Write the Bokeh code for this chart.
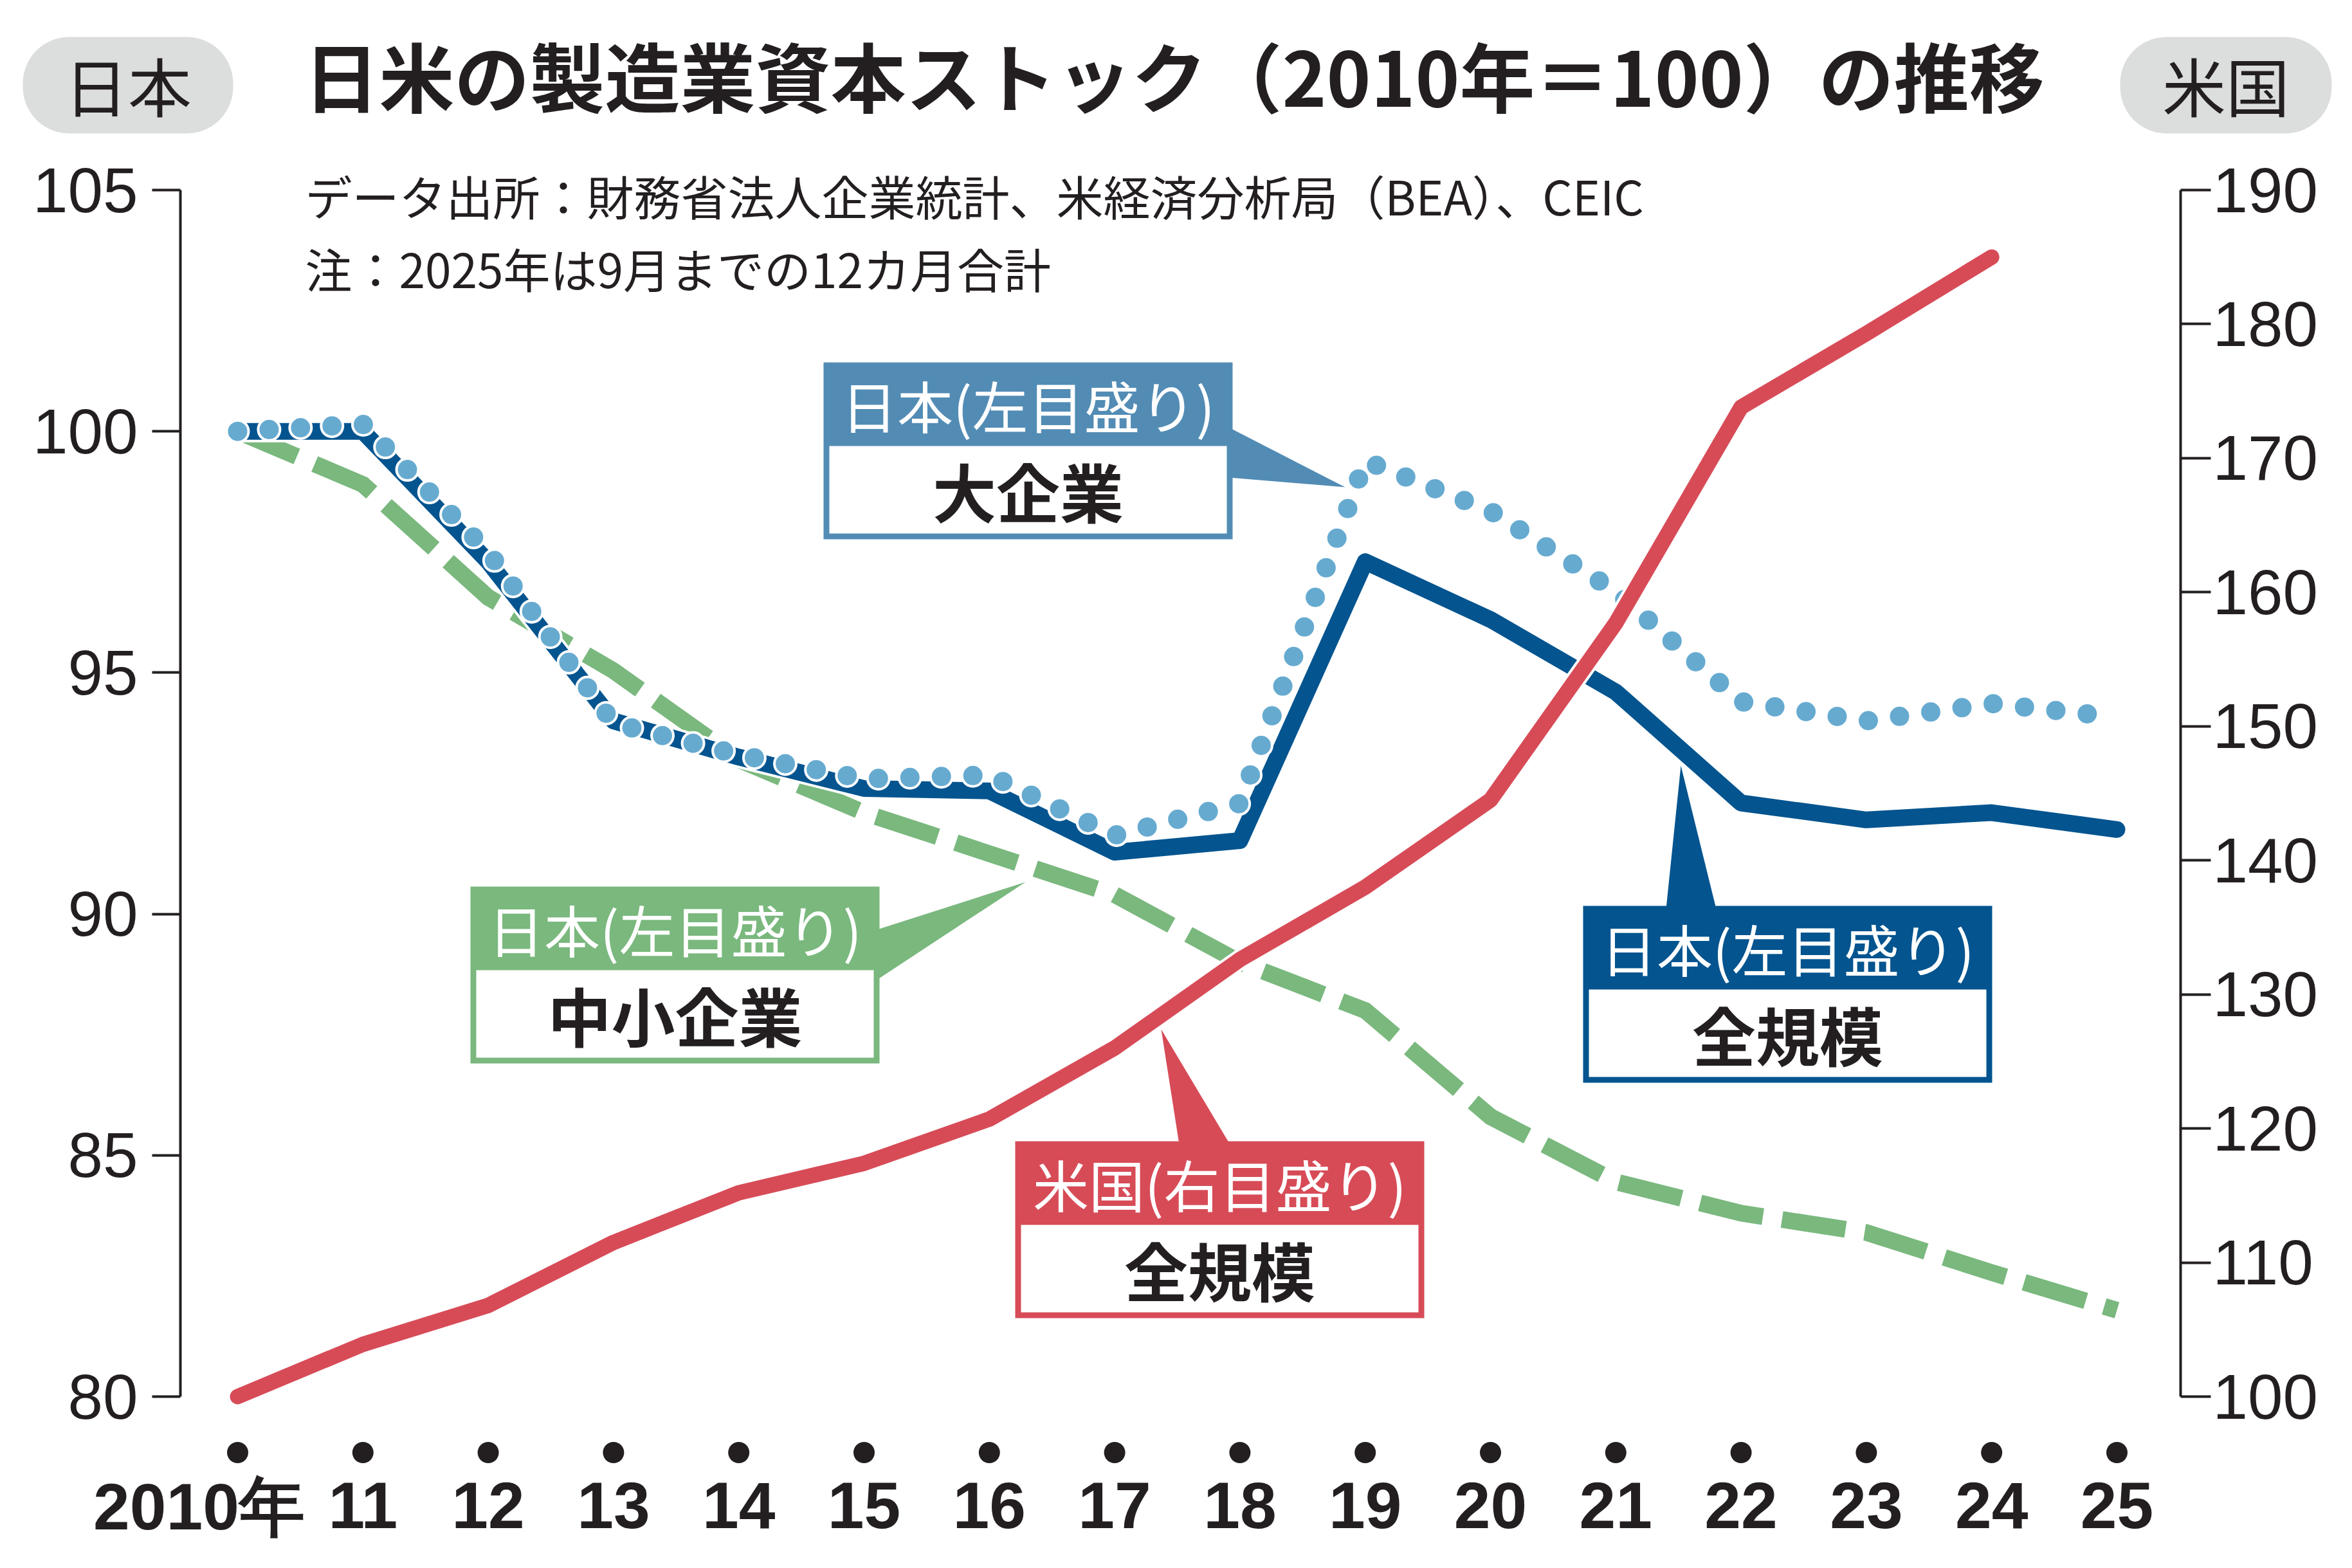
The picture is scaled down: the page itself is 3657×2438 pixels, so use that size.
import math
from bokeh.plotting import figure
from bokeh.models import Range1d, LinearAxis, FixedTicker
from bokeh.core.properties import value
from bokeh.embed import file_html
from bokeh.resources import INLINE

# ---------------- data ----------------
years = list(range(2010, 2026))
year_labels = ["2010年"] + [str(y - 2000) for y in years[1:]]

# Japan, left scale (2010 = 100)
jp_all = [100.0, 100.0, 97.3, 94.0, 93.25, 92.6, 92.55, 91.28, 91.52,
          97.3, 96.1, 94.6, 92.3, 91.95, 92.1, 91.75]
jp_large = [100.0, 100.15, 97.5, 93.95, 93.3, 92.8, 92.88, 91.63, 92.29,
            99.39, 98.35, 96.68, 94.4, 94.0, 94.36, 94.08]
jp_small = [100.0, 98.9, 96.56, 95.04, 93.2, 92.1, 91.25, 90.4, 89.0,
            88.0, 85.8, 84.45, 83.8, 83.4, 82.57, 81.79]

# United States, right scale (2010 = 100)
us_years = list(range(2010, 2025))
us_all = [100.0, 103.9, 106.8, 111.5, 115.2, 117.4, 120.7, 126.0, 132.6,
          138.0, 144.5, 157.7, 173.8, 179.3, 185.0]

left_ticks = [80, 85, 90, 95, 100, 105]
right_ticks = [100, 110, 120, 130, 140, 150, 160, 170, 180, 190]

# ---------------- layout (canvas pixels) ----------------
W, H = 3657, 2438
FL, FR, FT, FB = 280, 3390, 295, 2171          # plot frame edges
X2010, PX_YEAR = 369, 194.8                    # x of first year, px per year
LEFT_LO, LEFT_HI = 80, 105
RIGHT_LO, RIGHT_HI = 100, 190
YEAR_STANDOFF = 133                            # axis labels
FIRST_YEAR_TOP = 114                           # "2010年" label, below frame

x_start = 2010 - (X2010 - FL) / PX_YEAR
x_end = x_start + (FR - FL) / PX_YEAR


def xd(px):
    """canvas x pixel -> data x"""
    return x_start + (px - FL) / PX_YEAR


def yd(py):
    """canvas y pixel -> left-scale data y"""
    return LEFT_LO + (FB - py) * (LEFT_HI - LEFT_LO) / (FB - FT)


def xpx(x):
    """data x -> canvas x pixel"""
    return FL + (x - x_start) * PX_YEAR


INK = "#231f20"
NAVY = "#03548f"
DOTS = "#66aad0"
GREEN = "#7ab87e"
RED = "#d74b57"
STEEL = "#528cb5"
PILL = "#dcdddd"
JP_FONT = "Noto Sans CJK JP"
NUM_FONT = "Liberation Sans"

p = figure(width=W, height=H,
           x_range=Range1d(x_start, x_end),
           y_range=Range1d(LEFT_LO, LEFT_HI),
           output_backend="svg", toolbar_location=None,
           min_border_left=FL, min_border_right=W - FR,
           min_border_top=FT, min_border_bottom=H - FB,
           background_fill_color="white", border_fill_color="white",
           outline_line_color=None)
p.extra_y_ranges = {"us": Range1d(RIGHT_LO, RIGHT_HI)}
p.grid.visible = False

# left axis (Japan)
ya = p.yaxis[0]
ya.ticker = FixedTicker(ticks=left_ticks)
ya.axis_line_color = INK
ya.axis_line_width = 4
ya.major_tick_line_color = INK
ya.major_tick_line_width = 4
ya.major_tick_out = 44
ya.major_tick_in = 0
ya.minor_tick_line_color = None
ya.major_label_standoff = 22
ya.major_label_text_font = NUM_FONT
ya.major_label_text_font_size = "98px"
ya.major_label_text_color = INK

# right axis (US)
ra = LinearAxis(y_range_name="us", ticker=FixedTicker(ticks=right_ticks))
ra.axis_line_color = INK
ra.axis_line_width = 4
ra.major_tick_line_color = INK
ra.major_tick_line_width = 4
ra.major_tick_out = 47
ra.major_tick_in = 0
ra.minor_tick_line_color = None
ra.major_label_standoff = 3
ra.major_label_text_font = NUM_FONT
ra.major_label_text_font_size = "98px"
ra.major_label_text_color = INK
p.add_layout(ra, "right")

# year axis; the first label is set a little to the left so "年" clears "11"
xa = p.xaxis[0]
xa.ticker = FixedTicker(ticks=years)
overrides = {y: lab for y, lab in zip(years, year_labels)}
overrides[years[0]] = ""
xa.major_label_overrides = overrides
xa.axis_line_color = None
xa.major_tick_line_color = None
xa.minor_tick_line_color = None
xa.major_tick_out = 0
xa.major_tick_in = 0
xa.major_label_standoff = YEAR_STANDOFF
xa.major_label_text_font = NUM_FONT
xa.major_label_text_font_style = "bold"
xa.major_label_text_font_size = "102px"
xa.major_label_text_color = INK

p.text(x=[years[0]], y=[yd(FB + FIRST_YEAR_TOP)], text=[year_labels[0]],
       x_offset=-60, text_font=value(NUM_FONT), text_font_size=value("102px"),
       text_font_style=value("bold"), text_color=value(INK),
       text_align=value("center"), text_baseline=value("top"), level="overlay")


def label(x, y, text, size, color=INK, bold=False, align="center", level="glyph"):
    p.text(x=x, y=y, text=text,
           text_font=value(JP_FONT), text_font_size=value(size),
           text_font_style=value("bold" if bold else "normal"),
           text_color=value(color), text_align=value(align),
           text_baseline=value("middle"), level=level)


# ---------------- callouts ----------------
BOX_W, HEAD_H, BODY_H, BORDER = 636, 130, 145, 9


def callout(left, top, color, head, body, pointer):
    right = left + BOX_W
    bottom = top + HEAD_H + BODY_H
    p.quad(left=[xd(left)], right=[xd(right)], top=[yd(top)], bottom=[yd(bottom)],
           fill_color=color, line_color=None)
    p.quad(left=[xd(left + BORDER)], right=[xd(right - BORDER)],
           top=[yd(top + HEAD_H)], bottom=[yd(bottom - BORDER)],
           fill_color="white", line_color=None)
    p.patch([xd(px) for px, _ in pointer], [yd(py) for _, py in pointer],
            fill_color=color, line_color=None)
    cx = xd(left + BOX_W / 2)
    label([cx], [yd(top + HEAD_H / 2)], [head], "87px", color="white")
    label([cx], [yd(top + HEAD_H + (BODY_H - BORDER) / 2)], [body], "99px", bold=True)


callout(1280, 563, STEEL, "日本(左目盛り)", "大企業",
        [(1910, 664), (1910, 742), (2091, 757)])
callout(731, 1378, GREEN, "日本(左目盛り)", "中小企業",
        [(1363, 1445), (1363, 1523), (1594, 1371)])
callout(2461, 1408, NAVY, "日本(左目盛り)", "全規模",
        [(2590, 1413), (2668, 1413), (2613, 1190)])
callout(1578, 1774, RED, "米国(右目盛り)", "全規模",
        [(1833, 1779), (1912, 1779), (1805, 1600)])

# ---------------- series ----------------
OV = "overlay"
p.line(years, jp_small, line_color=GREEN, line_width=26, line_dash="100 30",
       line_cap="butt", line_join="miter", level=OV)

p.line(years, jp_all, line_color="white", line_width=34,
       line_cap="round", line_join="round", level=OV)
p.line(years, jp_all, line_color=NAVY, line_width=26,
       line_cap="round", line_join="round", level=OV)

p.line(years, jp_large, line_color="white", line_width=38, line_dash="0 49",
       line_cap="round", level=OV)
p.line(years, jp_large, line_color=DOTS, line_width=30, line_dash="0 49",
       line_cap="round", level=OV)

p.line(us_years, us_all, y_range_name="us", line_color="white", line_width=32,
       line_cap="round", line_join="round", level=OV)
p.line(us_years, us_all, y_range_name="us", line_color=RED, line_width=24,
       line_cap="round", line_join="round", level=OV)


# ---------------- shapes outside the frame ----------------
def round_box(x0, y0, x1, y1, r, n=14):
    xs, ys = [], []
    corners = [(x1 - r, y0 + r, -90), (x1 - r, y1 - r, 0),
               (x0 + r, y1 - r, 90), (x0 + r, y0 + r, 180)]
    for cx, cy, a0 in corners:
        for k in range(n + 1):
            a = math.radians(a0 + 90 * k / n)
            xs.append(xd(cx + r * math.cos(a)))
            ys.append(yd(cy + r * math.sin(a)))
    return xs, ys


# a black dot under each year
DOT_PY, DOT_R = 2258, 16.5
for yr in years:
    cx = xpx(yr)
    dx_, dy_ = round_box(cx - DOT_R, DOT_PY - DOT_R, cx + DOT_R, DOT_PY + DOT_R, DOT_R, n=8)
    p.patch(dx_, dy_, fill_color=INK, line_color=None, level=OV)

# heading pills
for (x0, x1, lab) in [(35, 362, "日本"), (3296, 3625, "米国")]:
    px_, py_ = round_box(x0, 57, x1, 207, 72)
    p.patch(px_, py_, fill_color=PILL, line_color=None, level=OV)
    label([xd((x0 + x1) / 2)], [yd(130)], [lab], "99px", level=OV)

label([xd(472)], [yd(114)], ["日米の製造業資本ストック（2010年＝100）の推移"], "117px",
      bold=True, align="left", level=OV)
label([xd(474), xd(474)], [yd(302), yd(415)],
      ["データ出所：財務省法人企業統計、米経済分析局（BEA）、CEIC",
       "注：2025年は9月までの12カ月合計"], "73px", align="left", level=OV)

with open("out.html", "w", encoding="utf-8") as f:
    f.write(file_html(p, INLINE, title="日米の製造業資本ストック"))
